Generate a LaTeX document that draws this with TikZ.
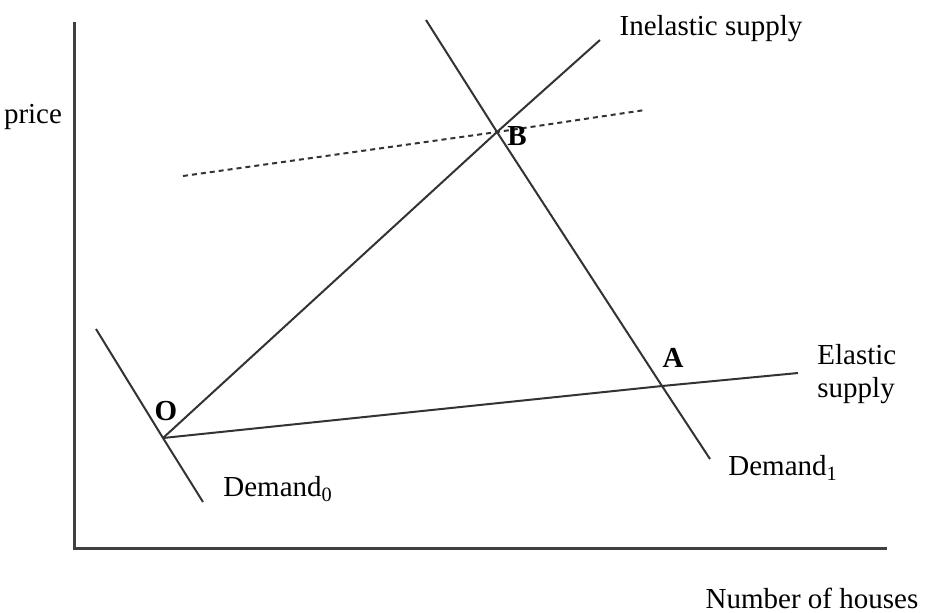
\documentclass[tikz,border=0pt]{standalone}
\usepackage{fontspec}
\setmainfont{Liberation Serif}
\usepackage{tikz}
\usetikzlibrary{positioning}

\begin{document}
\begin{tikzpicture}[x=0.5pt, y=-0.5pt,
    axis/.style={line width=1.5pt, black!75},
    curve/.style={line width=1pt, black!80},
    guide/.style={line width=1pt, black!80, dash pattern=on 2.5pt off 2pt},
    lbl/.style={inner sep=0pt, font=\fontsize{14.5}{16.5}\selectfont},
    point/.style={lbl, font=\fontsize{14.5}{16.5}\selectfont\bfseries}]
    \useasboundingbox (0,0) rectangle (925,612);
    % points of the diagram
    \coordinate (origin) at (74,548);
    \coordinate (ytop) at (74,22);
    \coordinate (xend) at (887,548);
    \coordinate (O) at (163,438);
    \coordinate (B) at (497,132);
    \coordinate (A) at (662,386);
    \coordinate (d0top) at (96,329);
    \coordinate (d0bot) at (203,502);
    \coordinate (d1top) at (426,20);
    \coordinate (d1bot) at (710,459);
    \coordinate (inelend) at (600,40);
    \coordinate (elend) at (798,373);
    \coordinate (dashL) at (183,176);
    \coordinate (dashR) at (645,110);
    % axes
    \draw[axis] (ytop) -- (origin) -- (xend);
    \node[lbl] (price) at (33,117) {price};
    \node[lbl] (houses) at (812,598) {Number of houses};
    % curves
    \draw[curve] (d0top) -- (O) -- (d0bot);
    \draw[curve] (d1top) -- (B) -- (A) -- (d1bot);
    \draw[curve] (O) -- (B) -- (inelend);
    \draw[curve] (O) -- (A) -- (elend);
    \draw[guide] (dashL) -- (B) -- (dashR);
    % labels
    \node[point] (Olbl) at (166,411) {O};
    \node[point] (Blbl) at (517,136) {B};
    \node[point] (Albl) at (673,358) {A};
    \node[lbl] (inel) at (711,29) {Inelastic supply};
    \node[lbl, anchor=west, align=left] (el) at (817,374) {Elastic\\supply};
    \node[lbl, anchor=west] (dem1) at (728,468) {Demand\textsubscript{1}};
    \node[lbl, anchor=west] (dem0) at (223,489) {Demand\textsubscript{0}};
\end{tikzpicture}
\end{document}
